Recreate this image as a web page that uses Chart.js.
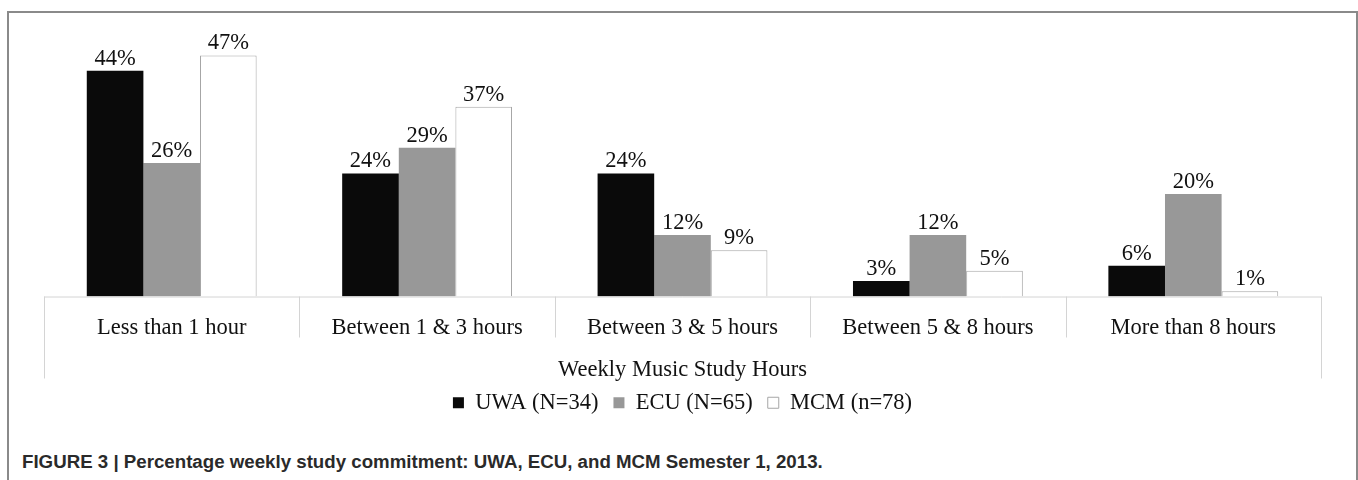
<!DOCTYPE html>
<html>
<head>
<meta charset="utf-8">
<script src="https://cdn.jsdelivr.net/npm/chart.js@4/dist/chart.umd.min.js"></script>
<style>
  html, body { margin: 0; padding: 0; background: #fff; }
  body { width: 1358px; height: 480px; position: relative; overflow: hidden; }
  #frame { position: absolute; left: 7px; top: 11px; width: 1347px; height: 500px;
           border: 2px solid #8a8a8a; border-bottom: none; }
  #wrap { position: absolute; left: 0; top: 0; width: 1358px; height: 444px; }
  #caption { position: absolute; left: 22px; top: 451px; font-family: "Liberation Sans", Arial, sans-serif;
             font-weight: bold; font-size: 18.7px; color: #2a2a2a; white-space: nowrap; }
</style>
</head>
<body>
<div id="frame"></div>
<div id="wrap"><canvas id="c"></canvas></div>
<div id="caption">FIGURE 3 | Percentage weekly study commitment: UWA, ECU, and MCM Semester 1, 2013.</div>
<script>
const categories = ["Less than 1 hour", "Between 1 & 3 hours", "Between 3 & 5 hours", "Between 5 & 8 hours", "More than 8 hours"];
const seriesNames = ["UWA (N=34)", "ECU (N=65)", "MCM (n=78)"];
const uwaValues = [44, 24, 24, 3, 6];
const ecuValues = [26, 29, 12, 12, 20];
const mcmValues = [47, 37, 9, 5, 1];
const axisTitle = "Weekly Music Study Hours";

const SERIF = '"Liberation Serif", "Times New Roman", serif';
const FS = 22.5;

const dividerPlugin = {
  id: 'dividers',
  afterDraw(chart) {
    const x = chart.scales.x, ctx = chart.ctx;
    const bottom = chart.chartArea.bottom;
    const n = categories.length;
    const step = (x.right - x.left) / n;
    ctx.save();
    ctx.strokeStyle = '#d4d4d4';
    ctx.lineWidth = 1;
    ctx.beginPath();
    ctx.moveTo(x.left, bottom + 0.5); ctx.lineTo(x.right, bottom + 0.5);
    for (let i = 0; i <= n; i++) {
      const px = Math.round(x.left + i * step) + 0.5;
      const len = (i === 0 || i === n) ? 82 : 41;
      ctx.moveTo(px, bottom); ctx.lineTo(px, bottom + len);
    }
    ctx.stroke();
    ctx.restore();
  }
};

const labelPlugin = {
  id: 'valueLabels',
  afterDatasetsDraw(chart) {
    const ctx = chart.ctx;
    ctx.save();
    ctx.font = FS + 'px ' + SERIF;
    ctx.fillStyle = '#111';
    ctx.textAlign = 'center';
    ctx.textBaseline = 'alphabetic';
    chart.data.datasets.forEach((ds, di) => {
      const meta = chart.getDatasetMeta(di);
      meta.data.forEach((bar, i) => {
        ctx.fillText(ds.data[i] + '%', bar.x, bar.y - 6);
      });
    });
    ctx.restore();
  }
};

new Chart(document.getElementById('c'), {
  type: 'bar',
  data: {
    labels: categories,
    datasets: [
      { label: seriesNames[0], data: uwaValues, backgroundColor: '#0a0a0a', borderColor: '#0a0a0a', borderWidth: 0 },
      { label: seriesNames[1], data: ecuValues, backgroundColor: '#989898', borderColor: '#989898', borderWidth: 0 },
      { label: seriesNames[2], data: mcmValues, backgroundColor: '#ffffff', borderColor: '#a6a6a6', borderWidth: 1 }
    ]
  },
  options: {
    responsive: true,
    maintainAspectRatio: false,
    animation: false,
    events: [],
    layout: { padding: { left: 44, right: 37, top: 40, bottom: 20 } },
    datasets: { bar: { barPercentage: 1.0, categoryPercentage: 0.665 } },
    scales: {
      x: {
        grid: { display: false },
        border: { display: false },
        ticks: { padding: 10, color: '#111', font: { family: SERIF, size: FS }, maxRotation: 0 },
        title: { display: true, text: axisTitle, color: '#111', font: { family: SERIF, size: FS }, padding: { top: 5, bottom: -7 } }
      },
      y: { display: false, min: 0, max: 50 }
    },
    plugins: {
      legend: {
        position: 'bottom',
        labels: { boxWidth: 11, boxHeight: 11, padding: 15, color: '#111', font: { family: SERIF, size: FS } }
      },
      tooltip: { enabled: false }
    }
  },
  plugins: [dividerPlugin, labelPlugin]
});
</script>
</body>
</html>
